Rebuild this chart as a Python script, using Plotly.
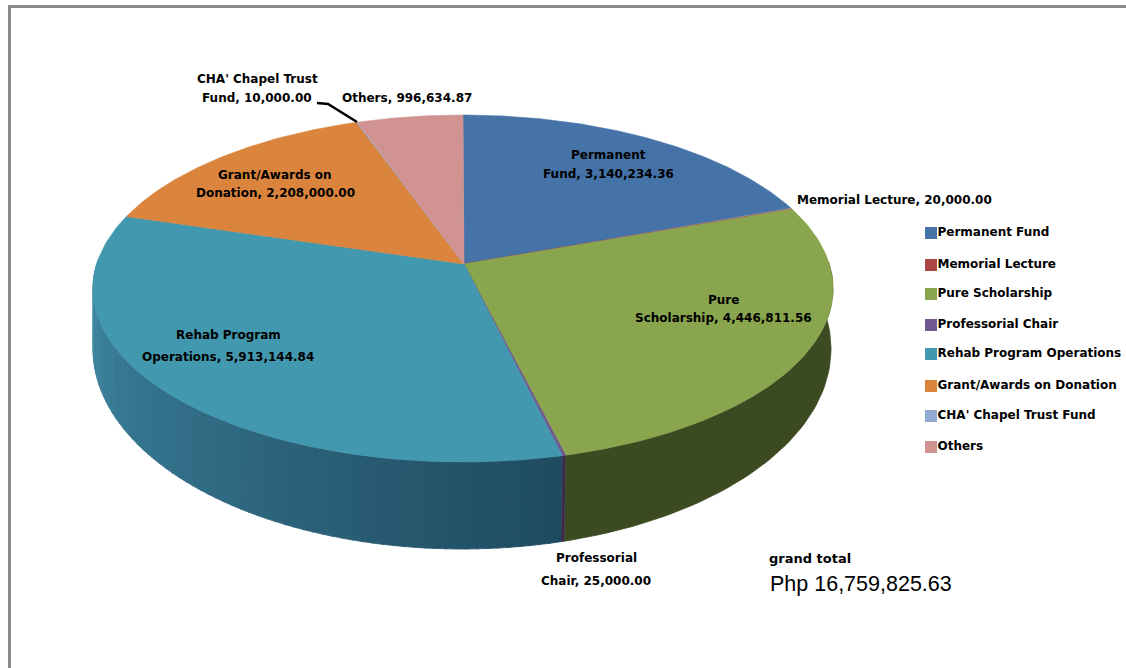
import numpy as np
import plotly.graph_objects as go

categories = ["Permanent Fund", "Memorial Lecture", "Pure Scholarship", "Professorial Chair",
              "Rehab Program Operations", "Grant/Awards on Donation", "CHA' Chapel Trust Fund", "Others"]
values = [3140234.36, 20000.00, 4446811.56, 25000.00, 5913144.84, 2208000.00, 10000.00, 996634.87]
colors = ["#4572A7", "#AA4643", "#89A54E", "#71588F", "#4198AF", "#DB843D", "#93A9CF", "#D19392"]
side_colors = ["#2A4464", "#662A28", "#3C4A22", "#3A2D4C", "#2C6A80", "#8A5326", "#58667C", "#7D5857"]
label_first = ["Permanent", "", "Pure", "Professorial", "Rehab Program", "Grant/Awards on", "CHA' Chapel Trust", ""]
label_second = ["Fund, ", "Memorial Lecture, ", "Scholarship, ", "Chair, ", "Operations, ", "Donation, ", "Fund, ", "Others, "]
label_x = [608, 894, 723, 596, 228, 275, 257, 407]
label_y = [164.5, 200, 309, 569.5, 346, 184, 88.5, 98]
label_gap = [19, 0, 18, 23, 22, 18, 19, 0]
legend_y = [233, 265, 294, 325, 354, 386, 416, 447]

AX, AY = 464, 264                        # apex of the wedges
TX, TY, TRX, TRY = 463, 288.5, 370, 173.5  # top ellipse
BX, BY, BRX, BRY = 462, 349, 369, 200    # bottom ellipse
VIEW_FROM = [0, 67.6, 163.5, 291, 338.4, 360]   # perspective: pie angle -> angle on the ellipse
VIEW_TO = [0, 62.5, 164, 294.6, 343.3, 360]

edges = np.radians(np.interp(np.concatenate([[0], np.cumsum(values)]) / np.sum(values) * 360,
                             VIEW_FROM, VIEW_TO))


def top(t):
    return TX + TRX * np.sin(t), TY - TRY * np.cos(t)


def bottom(t):
    return BX + BRX * np.sin(t), BY - BRY * np.cos(t)


def mix(a, b, f):
    ca = [int(a[i:i + 2], 16) for i in (1, 3, 5)]
    cb = [int(b[i:i + 2], 16) for i in (1, 3, 5)]
    return "rgb(%d,%d,%d)" % tuple(round(x + (y - x) * f) for x, y in zip(ca, cb))


fig = go.Figure()


def poly(xs, ys, color):
    fig.add_trace(go.Scatter(x=xs, y=ys, mode="lines", fill="toself", fillcolor=color,
                             line=dict(width=0.8, color=color), hoverinfo="skip", showlegend=False))


# side walls (front half of the pie only)
for i in range(len(values)):
    a, b = max(edges[i], np.pi * 0.45), min(edges[i + 1], np.pi * 1.55)
    if b <= a:
        continue
    if categories[i].startswith("Rehab"):
        steps = 70
        cuts = np.linspace(a, b, steps + 1)
        for k in range(steps):
            t = np.linspace(cuts[k], cuts[k + 1] + 0.004, 4)
            tx, ty = top(t)
            bx, by = bottom(t)
            poly(np.r_[tx, bx[::-1]], np.r_[ty, by[::-1]], mix("#1F4B60", "#4089A5", k / (steps - 1)))
    else:
        t = np.linspace(a, b, 60)
        tx, ty = top(t)
        bx, by = bottom(t)
        poly(np.r_[tx, bx[::-1]], np.r_[ty, by[::-1]], side_colors[i])

# top faces
for i in range(len(values)):
    t = np.linspace(edges[i], edges[i + 1], 120)
    tx, ty = top(t)
    fig.add_trace(go.Scatter(x=np.r_[AX, tx, AX], y=np.r_[AY, ty, AY], mode="lines", fill="toself",
                             fillcolor=colors[i], line=dict(width=0.6, color=colors[i]),
                             name=categories[i], text=categories[i], hoverinfo="text", showlegend=False))

# leader line
fig.add_trace(go.Scatter(x=[317, 328, 357], y=[103, 104, 122], mode="lines",
                         line=dict(color="black", width=2.5), hoverinfo="skip", showlegend=False))

# legend
fig.add_trace(go.Scatter(x=[931] * len(categories), y=legend_y, mode="markers",
                         marker=dict(symbol="square", size=12, color=colors),
                         hoverinfo="skip", showlegend=False))
fig.add_trace(go.Scatter(x=[937.5] * len(categories), y=legend_y, mode="text", text=categories,
                         textposition="middle right",
                         textfont=dict(family="DejaVu Sans", size=12, color="black", weight="bold"),
                         hoverinfo="skip", showlegend=False))

annotations = []
for i in range(len(values)):
    font = dict(family="DejaVu Sans", size=12, color="black")
    gap = label_gap[i] / 2
    if label_first[i]:
        annotations.append(dict(x=label_x[i], y=label_y[i] - gap, xref="x", yref="y", showarrow=False,
                                text=f"<b>{label_first[i]}</b>", font=font))
    annotations.append(dict(x=label_x[i], y=label_y[i] + gap, xref="x", yref="y", showarrow=False,
                            text=f"<b>{label_second[i]}{values[i]:,.2f}</b>", font=font))
annotations.append(dict(x=767, y=558, xref="x", yref="y", xanchor="left", showarrow=False,
                        text="<b>grand total</b>", font=dict(family="DejaVu Sans", size=13, color="black")))
annotations.append(dict(x=768, y=584, xref="x", yref="y", xanchor="left", showarrow=False,
                        text="Php 16,759,825.63", font=dict(family="Liberation Sans", size=21.5, color="black")))

shapes = [
    dict(type="rect", x0=8, x1=11, y0=5, y1=668, fillcolor="#8C8C8C", line_width=0, layer="below"),
    dict(type="rect", x0=8, x1=1126, y0=5, y1=8, fillcolor="#8C8C8C", line_width=0, layer="below"),
]

fig.update_layout(
    width=1126, height=668, margin=dict(l=0, r=0, t=0, b=0),
    paper_bgcolor="white", plot_bgcolor="white", showlegend=False,
    xaxis=dict(range=[0, 1126], visible=False, fixedrange=True),
    yaxis=dict(range=[668, 0], visible=False, fixedrange=True),
    annotations=annotations, shapes=shapes,
)
fig.write_html("out.html", config=dict(displayModeBar=False),
               post_script="document.body.style.margin='0';document.body.style.overflow='hidden';")
